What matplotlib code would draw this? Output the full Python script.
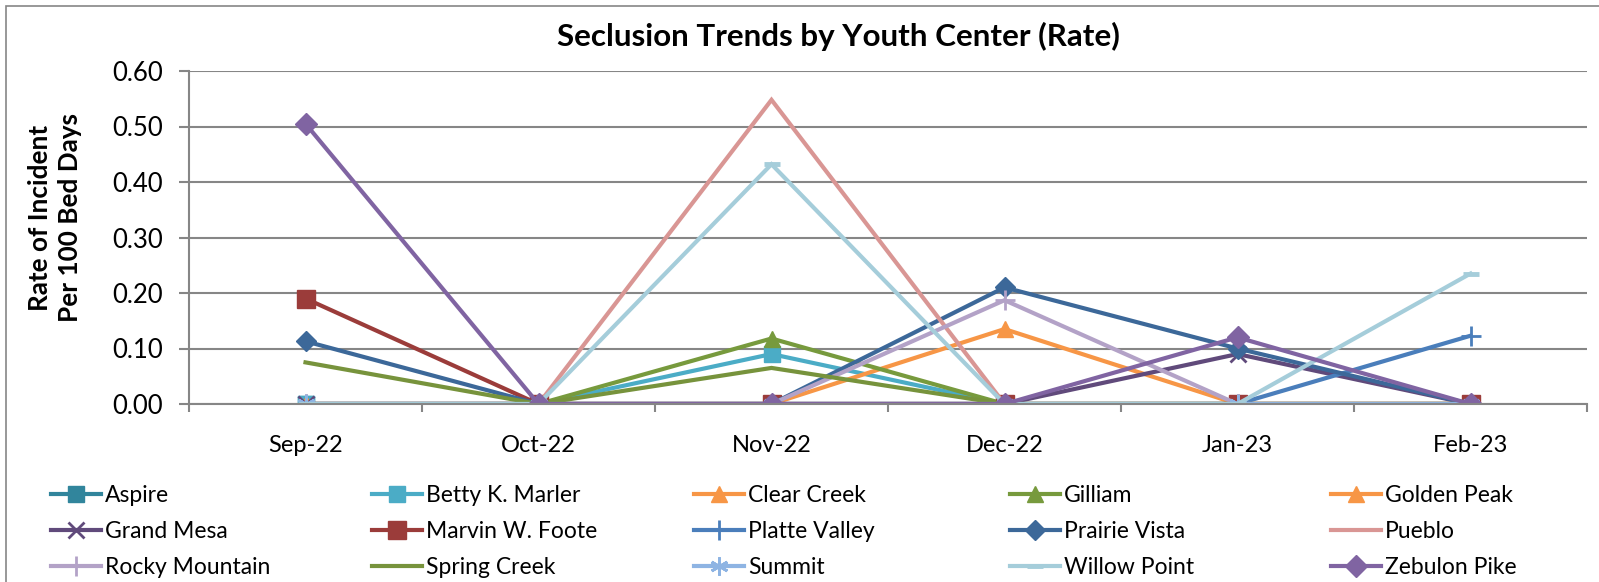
import matplotlib.pyplot as plt
from matplotlib.patches import Rectangle

months = ['Sep-22', 'Oct-22', 'Nov-22', 'Dec-22', 'Jan-23', 'Feb-23']

aspire = [0, 0, 0, 0, 0, 0]
betty_k_marler = [0, 0, 0.09, 0, 0, 0]
clear_creek = [0, 0, 0, 0.135, 0, 0]
gilliam = [0, 0, 0.118, 0, 0, 0]
golden_peak = [0, 0, 0, 0, 0, 0]
grand_mesa = [0, 0, 0, 0, 0.09, 0]
marvin_w_foote = [0.19, 0, 0, 0, 0, 0]
platte_valley = [0, 0, 0, 0, 0, 0.123]
prairie_vista = [0.113, 0, 0, 0.21, 0.10, 0]
pueblo = [0, 0, 0.548, 0, 0, 0]
rocky_mountain = [0, 0, 0, 0.187, 0, 0]
spring_creek = [0.075, 0, 0.065, 0, 0, 0]
summit = [0, 0, 0, 0, 0, 0]
willow_point = [0, 0, 0.432, 0, 0, 0.235]
zebulon_pike = [0.505, 0, 0, 0, 0.12, 0]

# name, values, color, marker, marker size
series = [
    ('Aspire', aspire, '#31859C', 's', 11),
    ('Betty K. Marler', betty_k_marler, '#4BACC6', 's', 11),
    ('Clear Creek', clear_creek, '#F79646', '^', 12),
    ('Gilliam', gilliam, '#779A3D', '^', 12),
    ('Golden Peak', golden_peak, '#F79646', '^', 12),
    ('Grand Mesa', grand_mesa, '#604A7B', 'x', 11),
    ('Marvin W. Foote', marvin_w_foote, '#9B3C3A', 's', 13),
    ('Platte Valley', platte_valley, '#4A7EBB', '+', 14),
    ('Prairie Vista', prairie_vista, '#3C6899', 'D', 10),
    ('Pueblo', pueblo, '#D99694', None, 0),
    ('Rocky Mountain', rocky_mountain, '#B3A2C7', '+', 14),
    ('Spring Creek', spring_creek, '#77933C', None, 0),
    ('Summit', summit, '#8EB4E3', (6, 2, 0), 13),
    ('Willow Point', willow_point, '#A5CDDA', '_', 11),
    ('Zebulon Pike', zebulon_pike, '#8064A2', 'D', 11),
]

plt.rcParams['font.family'] = ['Lato', 'DejaVu Sans']

W, H = 1599, 582
fig = plt.figure(figsize=(W / 100, H / 100), dpi=100)
ax = fig.add_axes([189 / W, 1 - 404 / H, (1587 - 189) / W, (404 - 71) / H])

# chart border
fig.patches.append(Rectangle((6 / W, -0.1), 1.2, 1 - 6 / H + 0.1, transform=fig.transFigure,
                             fill=False, edgecolor='#868686', linewidth=1.2))

x = list(range(len(months)))
handles = []
for name, vals, col, mk, ms in series:
    mew = 2 if mk in ('x', '+', (6, 2, 0)) else 1
    if mk == '_':
        mew = 3.5
    line, = ax.plot(x, vals, color=col, linewidth=3, marker=mk, markersize=ms,
                    markerfacecolor=col, markeredgecolor=col, markeredgewidth=mew,
                    label=name, solid_joinstyle='miter')
    handles.append(line)

ax.set_xlim(-0.5, 5.5)
ax.set_ylim(0, 0.6)
ax.set_yticks([0, 0.1, 0.2, 0.3, 0.4, 0.5, 0.6])
ax.set_yticklabels(['%.2f' % v for v in ax.get_yticks()], fontsize=18.5)
ax.yaxis.grid(True, color='#868686', linewidth=1.5)
ax.set_axisbelow(True)

ax.set_xticks(x)
ax.set_xticklabels(months, fontsize=17)
ax.set_xticks([i - 0.5 for i in range(len(months) + 1)], minor=True)
ax.tick_params(axis='x', which='major', length=0, pad=22)
ax.tick_params(axis='x', which='minor', length=6, color='#868686', width=1.5)
ax.tick_params(axis='y', length=7, color='#868686', width=1.5, pad=12)

for s in ['top', 'right']:
    ax.spines[s].set_visible(False)
for s in ['left', 'bottom']:
    ax.spines[s].set_color('#868686')
    ax.spines[s].set_linewidth(1.5)

fig.text(838 / W, 1 - 36 / H, 'Seclusion Trends by Youth Center (Rate)',
         fontsize=22.6, fontweight='bold', ha='center', va='center')
fig.text(55 / W, 1 - 218 / H, 'Rate of Incident\nPer 100 Bed Days',
         fontsize=18.8, fontweight='bold', ha='center', va='center',
         rotation=90, linespacing=1.25)

# legend: 5 equal columns, 3 rows
col_x = [51, 372, 694, 1010, 1331]
for c in range(5):
    hs = [handles[r * 5 + c] for r in range(3)]
    fig.legend(handles=hs, loc='upper left', bbox_to_anchor=(col_x[c] / W, 1 - 485 / H),
               frameon=False, fontsize=16.5, handlelength=2.2, handletextpad=0.15,
               labelspacing=0.66, borderpad=0, borderaxespad=0, numpoints=1)

fig.savefig('out.png', dpi=100)
